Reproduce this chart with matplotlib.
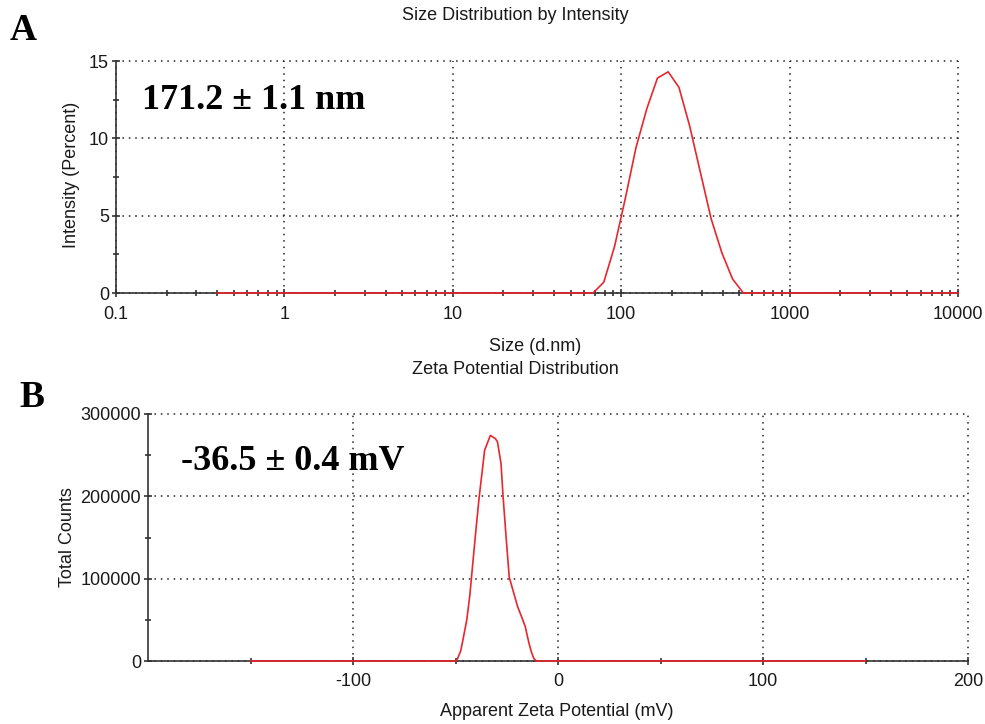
import matplotlib
matplotlib.use("Agg")
import matplotlib.pyplot as plt
from matplotlib.ticker import FixedLocator, FixedFormatter, LogLocator, NullFormatter

plt.rcParams["axes.unicode_minus"] = False

# --- A: size distribution by intensity (Malvern size classes, d.nm)
size_nm = [0.4, 0.4632, 0.5365, 0.6213, 0.7195, 0.8332, 0.9649, 1.117, 1.294, 1.499,
           1.736, 2.01, 2.328, 2.696, 3.122, 3.615, 4.187, 4.849, 5.615, 6.503,
           7.531, 8.721, 10.1, 11.7, 13.54, 15.69, 18.17, 21.04, 24.36, 28.21,
           32.67, 37.84, 43.82, 50.75, 58.77, 68.06, 78.82, 91.28, 105.7, 122.4,
           141.8, 164.2, 190.1, 220.2, 255.0, 295.3, 342.0, 396.1, 458.7, 531.2,
           615.1, 712.4, 825.0, 955.4, 1106, 1281, 1484, 1718, 1990, 2305,
           2669, 3091, 3580, 4145, 4801, 5560, 6439, 7456, 8635, 10000]
intensity_pct = ([0.0] * 35
                 + [0.0, 0.7, 3.0, 6.1, 9.4, 11.9, 13.9, 14.3, 13.3, 10.8, 7.8, 4.8, 2.6, 0.9, 0.0]
                 + [0.0] * 20)
size_ticks = [0.1, 1, 10, 100, 1000, 10000]
size_tick_labels = ["0.1", "1", "10", "100", "1000", "10000"]
intensity_ticks = [0, 5, 10, 15]

# --- B: zeta potential distribution
zeta_mv = [-150, -49.5, -47.5, -46.5, -44.5, -43.0, -41.7, -40.0, -38.5, -37.0, -35.8,
           -33.0, -30.5, -29.5, -27.8, -26.8, -25.3, -23.8, -22.1, -19.7, -17.5, -16.0,
           -14.2, -13.0, -11.8, -10.5, 150]
zeta_counts = [0, 0, 12000, 24000, 50000, 80000, 115000, 160000, 198000, 230000, 256000,
               274000, 270000, 266000, 240000, 200000, 150000, 102000, 87000, 66000, 52000, 42000,
               22000, 11000, 3000, 0, 0]
zeta_ticks = [-100, 0, 100, 200]
zeta_minor = [-150, -50, 50, 150]
count_ticks = [0, 100000, 200000, 300000]
count_minor = [50000, 150000, 250000]

SANS = "Liberation Sans"
SERIF = "Liberation Serif"
RED = "#e8262d"
AXC = "#333333"

W, H = 985, 724
fig = plt.figure(figsize=(W / 100, H / 100), dpi=100)


def px_axes(left, top, right, bottom):
    return fig.add_axes([left / W, 1 - bottom / H, (right - left) / W, (bottom - top) / H])


def style(ax):
    for s in ("top", "right"):
        ax.spines[s].set_visible(False)
    for s in ("left", "bottom"):
        ax.spines[s].set_color(AXC)
        ax.spines[s].set_linewidth(1.2)
    ax.tick_params(which="major", direction="inout", length=6, width=1.2, color=AXC,
                   labelsize=13, labelcolor="#1a1a1a")
    ax.tick_params(axis="x", which="major", pad=6)
    ax.tick_params(axis="y", which="major", pad=2)
    ax.tick_params(which="minor", direction="inout", length=5, width=1.2, color=AXC)
    ax.grid(True, which="major", color="#222222", linestyle=(0, (1, 3.2)), linewidth=1.1)
    for gl in ax.get_xgridlines() + ax.get_ygridlines():
        gl.set_clip_on(False)
    for lab in ax.get_xticklabels() + ax.get_yticklabels():
        lab.set_fontfamily(SANS)


# panel A
axA = px_axes(116, 61, 958, 293)
axA.plot(size_nm, intensity_pct, color=RED, lw=1.2, clip_on=False, zorder=5)
axA.set_xscale("log")
axA.set_xlim(0.1, 10000)
axA.set_ylim(0, 15)
axA.xaxis.set_major_locator(FixedLocator(size_ticks))
axA.xaxis.set_major_formatter(FixedFormatter(size_tick_labels))
axA.xaxis.set_minor_locator(LogLocator(base=10, subs=range(2, 10)))
axA.xaxis.set_minor_formatter(NullFormatter())
axA.set_yticks(intensity_ticks)
axA.set_yticks([2.5, 7.5, 12.5], minor=True)
style(axA)

# panel B
axB = px_axes(148, 414, 968, 661)
axB.plot(zeta_mv, zeta_counts, color=RED, lw=1.2, clip_on=False, zorder=5)
axB.set_xlim(-200, 200)
axB.set_ylim(0, 300000)
axB.set_xticks(zeta_ticks)
axB.set_xticks(zeta_minor, minor=True)
axB.set_yticks(count_ticks)
axB.set_yticks(count_minor, minor=True)
style(axB)


def ftext(x, y, s, **kw):
    fig.text(x / W, 1 - y / H, s, **kw)


# titles and axis labels
ftext(515, 15, "Size Distribution by Intensity", ha="center", va="center", family=SANS, fontsize=13, color="#1a1a1a")
ftext(71, 175, "Intensity (Percent)", ha="center", va="center", rotation=90, family=SANS, fontsize=13, color="#1a1a1a")
ftext(535, 346, "Size (d.nm)", ha="center", va="center", family=SANS, fontsize=13, color="#1a1a1a")
ftext(515, 369, "Zeta Potential Distribution", ha="center", va="center", family=SANS, fontsize=13, color="#1a1a1a")
ftext(67, 537, "Total Counts", ha="center", va="center", rotation=90, family=SANS, fontsize=13, color="#1a1a1a")
ftext(557, 712, "Apparent Zeta Potential (mV)", ha="center", va="center", family=SANS, fontsize=13, color="#1a1a1a")

# panel letters and result annotations
ftext(10, 40, "A", ha="left", va="baseline", family=SERIF, fontweight="bold", fontsize=27)
ftext(19, 407, "B", ha="left", va="baseline", family=SERIF, fontweight="bold", fontsize=27)
ftext(142, 109, "171.2 \u00b1 1.1 nm", ha="left", va="baseline", family=SERIF, fontweight="bold", fontsize=26)
ftext(181, 470, "-36.5 \u00b1 0.4 mV", ha="left", va="baseline", family=SERIF, fontweight="bold", fontsize=26)

fig.savefig("out.png", dpi=100)
